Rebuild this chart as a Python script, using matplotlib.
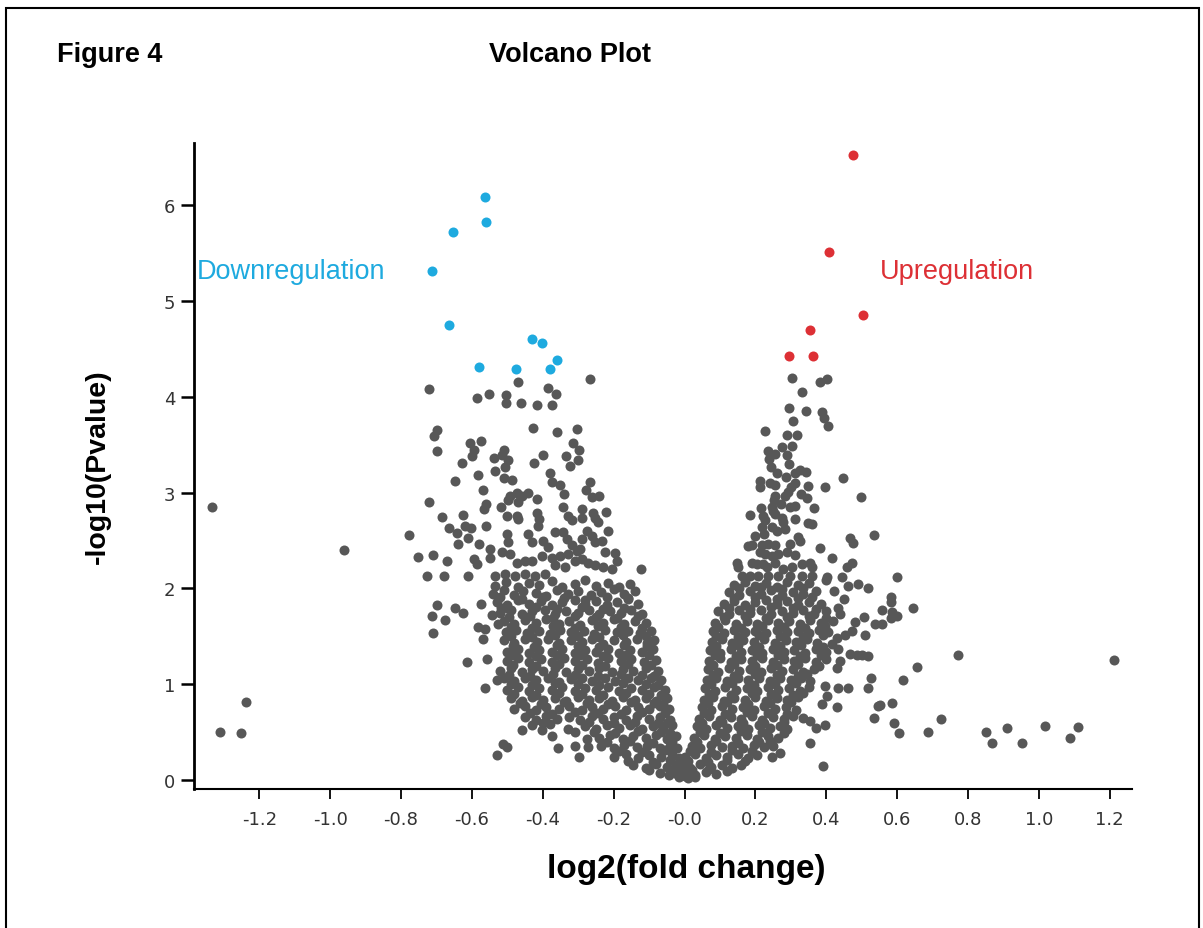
import matplotlib.pyplot as plt
import matplotlib.ticker as ticker
from matplotlib.patches import Rectangle
import numpy as np

# significant genes
down_x = [-0.563, -0.560, -0.654, -0.713, -0.664, -0.429, -0.401, -0.359, -0.579, -0.475, -0.380]
down_y = [6.09, 5.83, 5.72, 5.31, 4.75, 4.60, 4.56, 4.38, 4.31, 4.29, 4.29]
up_x = [0.474, 0.408, 0.503, 0.354, 0.296, 0.363]
up_y = [6.52, 5.51, 4.85, 4.70, 4.43, 4.43]

# non-significant genes, (log2 fc, -log10 p)
left_upper = [
    (-0.720, 4.08), (-0.471, 4.15), (-0.266, 4.19), (-0.586, 3.99), (-0.553, 4.03), (-0.504, 4.02),
    (-0.504, 3.94), (-0.462, 3.94), (-0.416, 3.91), (-0.373, 3.92), (-0.384, 4.09), (-0.362, 4.03),
    (-0.699, 3.65), (-0.707, 3.59), (-0.427, 3.67), (-0.359, 3.63), (-0.303, 3.66), (-0.699, 3.43),
    (-0.604, 3.52), (-0.574, 3.54), (-0.593, 3.44), (-0.599, 3.38), (-0.509, 3.44), (-0.497, 3.34),
    (-0.516, 3.39), (-0.537, 3.36), (-0.629, 3.31), (-0.399, 3.39), (-0.424, 3.31), (-0.314, 3.52),
    (-0.298, 3.44), (-0.335, 3.38), (-0.301, 3.34), (-0.323, 3.28), (-0.506, 3.27), (-0.535, 3.23),
    (-0.583, 3.18), (-0.647, 3.12), (-0.508, 3.15), (-0.487, 3.13), (-0.381, 3.20), (-0.375, 3.11),
    (-0.351, 3.08), (-0.340, 2.99), (-0.266, 3.11), (-0.279, 3.03), (-0.262, 2.95), (-0.241, 2.96),
    (-0.570, 3.03), (-0.492, 2.97), (-0.473, 3.00), (-0.459, 2.97), (-0.497, 2.92), (-0.469, 2.90),
    (-0.441, 3.00), (-0.417, 2.93), (-0.720, 2.90), (-0.561, 2.88), (-0.565, 2.83), (-0.518, 2.85),
    (-0.683, 2.75), (-0.625, 2.77), (-0.502, 2.76), (-0.473, 2.76), (-0.470, 2.72), (-0.417, 2.79),
    (-0.412, 2.72), (-0.414, 2.65), (-0.342, 2.85), (-0.328, 2.76), (-0.318, 2.71), (-0.290, 2.83),
    (-0.290, 2.74), (-0.257, 2.79), (-0.252, 2.74), (-0.243, 2.69), (-0.222, 2.80), (-0.666, 2.63),
    (-0.643, 2.58), (-0.619, 2.65), (-0.602, 2.63), (-0.612, 2.53), (-0.561, 2.65), (-0.638, 2.46),
    (-0.580, 2.46), (-0.548, 2.41), (-0.500, 2.57), (-0.497, 2.48), (-0.441, 2.57), (-0.431, 2.48),
    (-0.398, 2.50), (-0.384, 2.43), (-0.365, 2.59), (-0.342, 2.59), (-0.332, 2.52), (-0.318, 2.45),
    (-0.304, 2.39), (-0.276, 2.60), (-0.262, 2.55), (-0.252, 2.48), (-0.234, 2.50), (-0.215, 2.60),
    (-0.290, 2.52), (-0.295, 2.41), (-0.224, 2.38), (-0.196, 2.37), (-0.709, 2.35), (-0.669, 2.29),
    (-0.593, 2.31), (-0.586, 2.25), (-0.549, 2.32), (-0.516, 2.38), (-0.492, 2.36), (-0.473, 2.27),
    (-0.450, 2.29), (-0.431, 2.29), (-0.403, 2.34), (-0.375, 2.32), (-0.351, 2.34), (-0.328, 2.36),
    (-0.365, 2.24), (-0.337, 2.22), (-0.309, 2.29), (-0.290, 2.31), (-0.271, 2.27), (-0.252, 2.24),
    (-0.229, 2.22), (-0.205, 2.20), (-0.191, 2.29), (-0.124, 2.20), (-0.727, 2.13), (-0.680, 2.13),
    (-0.610, 2.13), (-0.535, 2.13), (-0.506, 2.15), (-0.478, 2.13), (-0.450, 2.15), (-0.421, 2.13),
    (-0.393, 2.15),
]
left_sparse = [
    (-0.699, 1.83), (-0.647, 1.80), (-0.624, 1.74), (-0.713, 1.71), (-0.676, 1.67), (-0.711, 1.53),
    (-0.575, 1.84), (-0.544, 1.72), (-0.517, 1.80), (-0.525, 1.63), (-0.582, 1.60), (-0.563, 1.58),
    (-0.570, 1.47), (-0.613, 1.23), (-0.558, 1.26), (-0.530, 1.04), (-0.563, 0.96), (-0.459, 0.52),
    (-0.401, 0.52), (-0.375, 0.46), (-0.328, 0.53), (-0.309, 0.50), (-0.356, 0.33), (-0.309, 0.36),
    (-0.299, 0.24), (-0.511, 0.38), (-0.502, 0.34), (-0.530, 0.26), (-0.276, 0.43), (-0.271, 0.34),
]
left_dense = [
    (-0.535, 2.03), (-0.505, 2.07), (-0.470, 2.02), (-0.440, 2.06), (-0.410, 2.04), (-0.375, 2.08),
    (-0.345, 2.02), (-0.310, 2.05), (-0.280, 2.09), (-0.250, 2.03), (-0.215, 2.06), (-0.185, 2.01),
    (-0.155, 2.05),
    (-0.540, 1.94), (-0.510, 1.98), (-0.480, 1.93), (-0.455, 1.97), (-0.420, 1.95), (-0.390, 1.92),
    (-0.360, 1.98), (-0.330, 1.94), (-0.300, 1.97), (-0.265, 1.93), (-0.235, 1.96), (-0.200, 1.99),
    (-0.170, 1.94), (-0.140, 1.97),
    (-0.530, 1.86), (-0.500, 1.83), (-0.470, 1.88), (-0.440, 1.84), (-0.405, 1.87), (-0.375, 1.83),
    (-0.345, 1.86), (-0.310, 1.88), (-0.280, 1.84), (-0.250, 1.87), (-0.220, 1.83), (-0.190, 1.86),
    (-0.160, 1.89), (-0.130, 1.84),
    (-0.520, 1.74), (-0.490, 1.77), (-0.460, 1.73), (-0.430, 1.76), (-0.395, 1.78), (-0.365, 1.73),
    (-0.335, 1.76), (-0.300, 1.74), (-0.270, 1.78), (-0.240, 1.73), (-0.210, 1.76), (-0.180, 1.74),
    (-0.150, 1.77), (-0.120, 1.73),
    (-0.510, 1.66), (-0.480, 1.63), (-0.450, 1.67), (-0.420, 1.64), (-0.390, 1.68), (-0.355, 1.63),
    (-0.325, 1.66), (-0.295, 1.62), (-0.260, 1.67), (-0.230, 1.64), (-0.200, 1.68), (-0.170, 1.63),
    (-0.140, 1.66), (-0.110, 1.64),
    (-0.505, 1.54), (-0.475, 1.57), (-0.445, 1.53), (-0.410, 1.56), (-0.380, 1.52), (-0.350, 1.57),
    (-0.320, 1.54), (-0.285, 1.56), (-0.255, 1.52), (-0.225, 1.57), (-0.190, 1.54), (-0.160, 1.56),
    (-0.125, 1.53), (-0.095, 1.56),
    (-0.510, 1.46), (-0.480, 1.43), (-0.450, 1.47), (-0.415, 1.44), (-0.385, 1.47), (-0.355, 1.43),
    (-0.320, 1.46), (-0.290, 1.44), (-0.260, 1.47), (-0.230, 1.42), (-0.200, 1.46), (-0.165, 1.44),
    (-0.135, 1.47), (-0.105, 1.43), (-0.085, 1.46),
    (-0.500, 1.34), (-0.470, 1.37), (-0.440, 1.33), (-0.410, 1.36), (-0.375, 1.34), (-0.345, 1.37),
    (-0.310, 1.33), (-0.280, 1.36), (-0.250, 1.34), (-0.215, 1.37), (-0.185, 1.33), (-0.155, 1.36),
    (-0.120, 1.34), (-0.090, 1.37),
    (-0.500, 1.24), (-0.470, 1.27), (-0.440, 1.23), (-0.405, 1.26), (-0.375, 1.23), (-0.340, 1.27),
    (-0.310, 1.24), (-0.275, 1.26), (-0.245, 1.22), (-0.215, 1.27), (-0.180, 1.24), (-0.150, 1.26),
    (-0.115, 1.23), (-0.080, 1.25),
    (-0.520, 1.14), (-0.490, 1.17), (-0.460, 1.13), (-0.430, 1.16), (-0.400, 1.14), (-0.365, 1.17),
    (-0.335, 1.13), (-0.300, 1.16), (-0.270, 1.14), (-0.240, 1.17), (-0.205, 1.13), (-0.175, 1.16),
    (-0.145, 1.14), (-0.110, 1.17), (-0.075, 1.14),
    (-0.510, 1.06), (-0.480, 1.03), (-0.450, 1.07), (-0.420, 1.04), (-0.385, 1.06), (-0.355, 1.02),
    (-0.320, 1.05), (-0.290, 1.07), (-0.260, 1.03), (-0.225, 1.06), (-0.195, 1.03), (-0.160, 1.06),
    (-0.130, 1.04), (-0.095, 1.07), (-0.065, 1.04),
    (-0.500, 0.94), (-0.470, 0.97), (-0.440, 0.93), (-0.410, 0.96), (-0.375, 0.94), (-0.345, 0.97),
    (-0.310, 0.93), (-0.280, 0.96), (-0.250, 0.94), (-0.215, 0.97), (-0.185, 0.93), (-0.150, 0.96),
    (-0.120, 0.94), (-0.085, 0.97), (-0.055, 0.94),
    (-0.490, 0.86), (-0.460, 0.83), (-0.430, 0.87), (-0.400, 0.84), (-0.365, 0.86), (-0.335, 0.83),
    (-0.300, 0.87), (-0.270, 0.84), (-0.240, 0.86), (-0.205, 0.83), (-0.175, 0.87), (-0.140, 0.84),
    (-0.110, 0.86), (-0.080, 0.83), (-0.050, 0.86),
    (-0.480, 0.74), (-0.450, 0.77), (-0.420, 0.73), (-0.390, 0.76), (-0.355, 0.74), (-0.325, 0.77),
    (-0.290, 0.73), (-0.260, 0.76), (-0.230, 0.74), (-0.195, 0.77), (-0.165, 0.73), (-0.130, 0.76),
    (-0.100, 0.74), (-0.070, 0.77), (-0.045, 0.74),
    (-0.450, 0.66), (-0.420, 0.63), (-0.390, 0.67), (-0.360, 0.64), (-0.325, 0.66), (-0.295, 0.63),
    (-0.260, 0.67), (-0.230, 0.64), (-0.200, 0.66), (-0.165, 0.63), (-0.135, 0.67), (-0.100, 0.64),
    (-0.070, 0.66), (-0.040, 0.63),
    (-0.430, 0.57), (-0.380, 0.58), (-0.280, 0.56), (-0.250, 0.53), (-0.220, 0.57), (-0.185, 0.54),
    (-0.155, 0.57), (-0.120, 0.53), (-0.090, 0.56), (-0.060, 0.54), (-0.035, 0.57),
    (-0.240, 0.44), (-0.210, 0.47), (-0.175, 0.43), (-0.145, 0.46), (-0.110, 0.44), (-0.080, 0.47),
    (-0.050, 0.43), (-0.025, 0.46),
    (-0.235, 0.36), (-0.200, 0.33), (-0.170, 0.37), (-0.135, 0.34), (-0.105, 0.36), (-0.070, 0.33),
    (-0.040, 0.36), (-0.020, 0.33),
    (-0.200, 0.24), (-0.165, 0.27), (-0.130, 0.23), (-0.100, 0.26), (-0.065, 0.24), (-0.035, 0.27),
    (-0.015, 0.23),
    (-0.145, 0.16), (-0.110, 0.13), (-0.080, 0.17), (-0.050, 0.14), (-0.025, 0.16), (-0.005, 0.12),
    (-0.070, 0.07), (-0.045, 0.05), (-0.020, 0.08), (0.000, 0.04),
]
left_core = [
    (-0.520, 1.91), (-0.460, 1.89), (-0.400, 1.91), (-0.340, 1.90), (-0.280, 1.88), (-0.220, 1.91),
    (-0.160, 1.90),
    (-0.500, 1.80), (-0.420, 1.81), (-0.360, 1.79), (-0.290, 1.81), (-0.230, 1.79), (-0.170, 1.80),
    (-0.495, 1.70), (-0.435, 1.71), (-0.370, 1.69), (-0.310, 1.71), (-0.250, 1.70), (-0.190, 1.69),
    (-0.130, 1.71),
    (-0.490, 1.60), (-0.430, 1.59), (-0.370, 1.61), (-0.310, 1.59), (-0.245, 1.61), (-0.180, 1.60),
    (-0.120, 1.59),
    (-0.490, 1.50), (-0.430, 1.49), (-0.365, 1.51), (-0.300, 1.50), (-0.240, 1.49), (-0.175, 1.51),
    (-0.110, 1.50),
    (-0.485, 1.40), (-0.425, 1.39), (-0.360, 1.41), (-0.300, 1.40), (-0.240, 1.39), (-0.170, 1.41),
    (-0.105, 1.40),
    (-0.485, 1.30), (-0.420, 1.29), (-0.360, 1.31), (-0.295, 1.30), (-0.230, 1.29), (-0.165, 1.31),
    (-0.100, 1.30),
    (-0.485, 1.20), (-0.420, 1.19), (-0.355, 1.21), (-0.290, 1.20), (-0.225, 1.19), (-0.160, 1.21),
    (-0.095, 1.20),
    (-0.495, 1.10), (-0.435, 1.09), (-0.370, 1.11), (-0.310, 1.10), (-0.245, 1.09), (-0.180, 1.11),
    (-0.120, 1.10), (-0.085, 1.09),
    (-0.490, 1.00), (-0.430, 0.99), (-0.365, 1.01), (-0.300, 1.00), (-0.240, 0.99), (-0.175, 1.01),
    (-0.110, 1.00), (-0.075, 0.99),
    (-0.480, 0.90), (-0.420, 0.89), (-0.355, 0.91), (-0.290, 0.90), (-0.230, 0.89), (-0.165, 0.91),
    (-0.100, 0.90), (-0.065, 0.89),
    (-0.465, 0.80), (-0.405, 0.79), (-0.340, 0.81), (-0.275, 0.80), (-0.215, 0.79), (-0.150, 0.81),
    (-0.085, 0.80), (-0.060, 0.79),
    (-0.435, 0.70), (-0.375, 0.69), (-0.310, 0.71), (-0.245, 0.70), (-0.180, 0.69), (-0.120, 0.71),
    (-0.055, 0.70),
    (-0.400, 0.60), (-0.270, 0.61), (-0.200, 0.59), (-0.140, 0.61), (-0.075, 0.60), (-0.050, 0.59),
    (-0.255, 0.50), (-0.195, 0.49), (-0.130, 0.51), (-0.065, 0.50), (-0.040, 0.49),
    (-0.220, 0.40), (-0.155, 0.41), (-0.090, 0.39), (-0.035, 0.40),
    (-0.185, 0.30), (-0.120, 0.29), (-0.055, 0.31),
    (-0.160, 0.20), (-0.090, 0.19), (-0.040, 0.21),
    (-0.100, 0.10), (-0.035, 0.09),
]
right_upper = [
    (0.304, 4.20), (0.381, 4.15), (0.401, 4.19), (0.332, 4.05), (0.294, 3.88), (0.343, 3.85),
    (0.387, 3.84), (0.394, 3.78), (0.404, 3.70), (0.305, 3.75), (0.226, 3.64), (0.289, 3.60),
    (0.318, 3.60), (0.274, 3.48), (0.304, 3.49), (0.235, 3.43), (0.255, 3.40), (0.289, 3.39),
    (0.238, 3.35), (0.245, 3.27), (0.295, 3.30), (0.262, 3.20), (0.287, 3.16), (0.312, 3.21),
    (0.326, 3.24), (0.342, 3.22), (0.446, 3.15), (0.212, 3.12), (0.214, 3.06), (0.241, 3.10),
    (0.255, 3.08), (0.300, 3.06), (0.312, 3.10), (0.349, 3.07), (0.396, 3.06), (0.291, 3.01),
    (0.284, 2.97), (0.329, 2.99), (0.345, 2.94), (0.498, 2.95), (0.255, 2.97), (0.252, 2.92),
    (0.246, 2.85), (0.250, 2.81), (0.272, 2.88), (0.298, 2.85), (0.312, 2.86), (0.366, 2.84),
    (0.185, 2.77), (0.216, 2.84), (0.222, 2.76), (0.227, 2.71), (0.255, 2.78), (0.274, 2.74),
    (0.279, 2.69), (0.312, 2.72), (0.349, 2.68), (0.361, 2.67), (0.219, 2.64), (0.246, 2.64),
    (0.260, 2.60), (0.284, 2.62), (0.199, 2.55), (0.225, 2.57), (0.321, 2.54), (0.326, 2.49),
    (0.467, 2.53), (0.474, 2.47), (0.535, 2.56), (0.180, 2.44), (0.190, 2.45), (0.218, 2.45),
    (0.236, 2.46), (0.255, 2.45), (0.298, 2.46), (0.382, 2.42), (0.213, 2.38), (0.227, 2.36),
    (0.246, 2.34), (0.265, 2.36), (0.288, 2.38), (0.312, 2.35), (0.415, 2.32), (0.147, 2.27),
    (0.152, 2.22), (0.190, 2.27), (0.204, 2.25), (0.222, 2.25), (0.232, 2.22), (0.255, 2.27),
    (0.279, 2.20), (0.302, 2.22), (0.331, 2.25), (0.354, 2.27), (0.359, 2.22), (0.472, 2.27),
    (0.458, 2.22), (0.443, 2.12), (0.401, 2.12), (0.161, 2.13), (0.185, 2.13), (0.208, 2.13),
    (0.236, 2.13), (0.265, 2.13), (0.298, 2.13), (0.331, 2.13), (0.359, 2.13),
]
right_sparse = [
    (0.399, 2.09), (0.460, 2.03), (0.490, 2.05), (0.517, 2.00), (0.421, 1.97), (0.451, 1.89),
    (0.537, 1.63), (0.505, 1.70), (0.481, 1.65), (0.509, 1.51), (0.439, 1.73), (0.434, 1.80),
    (0.472, 1.56), (0.453, 1.51), (0.429, 1.48), (0.415, 1.42), (0.467, 1.32), (0.486, 1.31),
    (0.500, 1.30), (0.519, 1.29), (0.434, 1.37), (0.439, 1.24), (0.429, 1.17), (0.526, 1.06),
    (0.517, 0.96), (0.434, 0.96), (0.460, 0.96), (0.397, 0.98), (0.401, 0.88), (0.387, 0.79),
    (0.431, 0.76), (0.545, 0.77), (0.536, 0.65), (0.397, 0.57), (0.370, 0.54), (0.354, 0.39),
    (0.390, 0.15), (0.246, 0.24), (0.270, 0.28), (0.335, 0.65), (0.354, 0.62),
]
right_dense = [
    (0.140, 2.04), (0.170, 2.07), (0.200, 2.03), (0.230, 2.06), (0.260, 2.02), (0.290, 2.07),
    (0.320, 2.04), (0.350, 2.06),
    (0.125, 1.96), (0.155, 1.93), (0.185, 1.97), (0.215, 1.94), (0.245, 1.98), (0.275, 1.93),
    (0.305, 1.96), (0.335, 1.94), (0.370, 1.97),
    (0.110, 1.84), (0.140, 1.87), (0.170, 1.83), (0.200, 1.86), (0.230, 1.88), (0.260, 1.84),
    (0.290, 1.87), (0.320, 1.83), (0.350, 1.86), (0.385, 1.84),
    (0.095, 1.76), (0.125, 1.73), (0.155, 1.77), (0.185, 1.74), (0.215, 1.77), (0.245, 1.73),
    (0.275, 1.76), (0.305, 1.74), (0.335, 1.77), (0.365, 1.73), (0.400, 1.76),
    (0.085, 1.64), (0.115, 1.67), (0.145, 1.63), (0.175, 1.66), (0.205, 1.63), (0.235, 1.67),
    (0.265, 1.64), (0.295, 1.66), (0.325, 1.63), (0.355, 1.67), (0.385, 1.64), (0.420, 1.66),
    (0.080, 1.56), (0.110, 1.53), (0.140, 1.57), (0.170, 1.54), (0.200, 1.56), (0.230, 1.53),
    (0.260, 1.57), (0.290, 1.54), (0.320, 1.56), (0.350, 1.53), (0.380, 1.57), (0.405, 1.54),
    (0.078, 1.44), (0.105, 1.47), (0.135, 1.43), (0.165, 1.46), (0.195, 1.44), (0.225, 1.47),
    (0.255, 1.43), (0.285, 1.46), (0.315, 1.44), (0.345, 1.47), (0.375, 1.43),
    (0.072, 1.36), (0.100, 1.33), (0.130, 1.37), (0.160, 1.34), (0.190, 1.36), (0.220, 1.33),
    (0.250, 1.37), (0.280, 1.34), (0.310, 1.36), (0.340, 1.33), (0.370, 1.37), (0.400, 1.34),
    (0.070, 1.24), (0.100, 1.27), (0.130, 1.23), (0.160, 1.26), (0.190, 1.24), (0.220, 1.27),
    (0.250, 1.23), (0.280, 1.26), (0.310, 1.24), (0.340, 1.27), (0.370, 1.23), (0.400, 1.26),
    (0.066, 1.16), (0.095, 1.13), (0.125, 1.17), (0.155, 1.14), (0.185, 1.16), (0.215, 1.13),
    (0.245, 1.17), (0.275, 1.14), (0.305, 1.16), (0.335, 1.13), (0.365, 1.16),
    (0.063, 1.04), (0.090, 1.07), (0.120, 1.03), (0.150, 1.06), (0.180, 1.04), (0.210, 1.07),
    (0.240, 1.03), (0.270, 1.06), (0.300, 1.04), (0.330, 1.07), (0.355, 1.03),
    (0.058, 0.96), (0.085, 0.93), (0.115, 0.97), (0.145, 0.94), (0.175, 0.96), (0.205, 0.93),
    (0.235, 0.97), (0.265, 0.94), (0.295, 0.96), (0.325, 0.93), (0.350, 0.97),
    (0.054, 0.84), (0.080, 0.87), (0.110, 0.83), (0.140, 0.86), (0.170, 0.84), (0.200, 0.87),
    (0.230, 0.83), (0.260, 0.86), (0.290, 0.84), (0.320, 0.87),
    (0.048, 0.76), (0.075, 0.73), (0.105, 0.77), (0.135, 0.74), (0.165, 0.76), (0.195, 0.73),
    (0.225, 0.77), (0.255, 0.74), (0.285, 0.76), (0.315, 0.73),
    (0.040, 0.64), (0.070, 0.67), (0.100, 0.63), (0.130, 0.66), (0.160, 0.64), (0.190, 0.67),
    (0.220, 0.63), (0.250, 0.66), (0.280, 0.64), (0.305, 0.67),
    (0.034, 0.56), (0.060, 0.53), (0.090, 0.57), (0.120, 0.54), (0.150, 0.56), (0.180, 0.53),
    (0.210, 0.57), (0.240, 0.54), (0.270, 0.56), (0.290, 0.53),
    (0.028, 0.44), (0.055, 0.47), (0.085, 0.43), (0.115, 0.46), (0.145, 0.44), (0.175, 0.47),
    (0.205, 0.43), (0.235, 0.46), (0.265, 0.44),
    (0.020, 0.36), (0.045, 0.33), (0.075, 0.37), (0.105, 0.34), (0.135, 0.36), (0.165, 0.33),
    (0.195, 0.37), (0.225, 0.34), (0.250, 0.36),
    (0.002, 0.24), (0.030, 0.27), (0.060, 0.23), (0.090, 0.26), (0.120, 0.24), (0.150, 0.27),
    (0.180, 0.23), (0.205, 0.26),
    (-0.010, 0.16), (0.015, 0.13), (0.045, 0.17), (0.075, 0.14), (0.105, 0.16), (0.135, 0.13),
    (0.160, 0.16),
    (-0.020, 0.06), (0.005, 0.09), (0.030, 0.05), (0.060, 0.08), (0.090, 0.06),
    (-0.015, 0.03), (0.010, 0.02), (0.030, 0.035),
]
right_core = [
    (0.155, 2.00), (0.215, 2.01), (0.275, 1.99), (0.335, 2.00),
    (0.140, 1.90), (0.200, 1.91), (0.260, 1.89), (0.320, 1.90), (0.360, 1.91),
    (0.125, 1.80), (0.185, 1.79), (0.245, 1.81), (0.305, 1.80), (0.370, 1.79),
    (0.110, 1.70), (0.170, 1.71), (0.230, 1.69), (0.290, 1.70), (0.350, 1.71), (0.400, 1.69),
    (0.095, 1.60), (0.160, 1.59), (0.220, 1.61), (0.280, 1.60), (0.340, 1.59), (0.395, 1.61),
    (0.090, 1.50), (0.150, 1.49), (0.210, 1.51), (0.270, 1.50), (0.335, 1.49), (0.390, 1.51),
    (0.090, 1.40), (0.150, 1.41), (0.210, 1.39), (0.270, 1.40), (0.330, 1.41), (0.390, 1.39),
    (0.085, 1.30), (0.145, 1.29), (0.205, 1.31), (0.265, 1.30), (0.325, 1.29), (0.385, 1.31),
    (0.080, 1.20), (0.140, 1.21), (0.200, 1.19), (0.260, 1.20), (0.320, 1.21), (0.380, 1.19),
    (0.080, 1.10), (0.140, 1.09), (0.200, 1.11), (0.260, 1.10), (0.320, 1.09), (0.345, 1.11),
    (0.075, 1.00), (0.135, 1.01), (0.195, 0.99), (0.255, 1.00), (0.315, 1.01),
    (0.070, 0.90), (0.130, 0.89), (0.190, 0.91), (0.245, 0.90), (0.305, 0.89), (0.335, 0.91),
    (0.065, 0.80), (0.120, 0.81), (0.180, 0.79), (0.240, 0.80), (0.300, 0.81),
    (0.055, 0.70), (0.115, 0.69), (0.175, 0.71), (0.235, 0.70), (0.290, 0.69),
    (0.050, 0.60), (0.105, 0.61), (0.165, 0.59), (0.225, 0.60), (0.280, 0.61),
    (0.045, 0.50), (0.100, 0.49), (0.160, 0.51), (0.220, 0.50), (0.280, 0.49),
    (0.035, 0.40), (0.090, 0.41), (0.150, 0.39), (0.210, 0.40), (0.240, 0.41),
    (0.015, 0.30), (0.075, 0.29), (0.135, 0.31), (0.190, 0.30),
    (0.010, 0.20), (0.065, 0.19), (0.120, 0.21), (0.170, 0.20),
    (0.020, 0.10), (0.070, 0.11), (0.120, 0.09),
]
outliers = [
    (0.600, 2.12), (0.583, 1.91), (0.583, 1.86), (0.556, 1.78), (0.644, 1.80), (0.586, 1.75),
    (0.599, 1.71), (0.583, 1.69), (0.556, 1.63), (0.771, 1.30), (0.655, 1.18), (0.616, 1.04),
    (0.551, 0.78), (0.586, 0.80), (0.592, 0.60), (0.606, 0.49), (0.688, 0.50), (0.724, 0.64),
    (0.851, 0.50), (0.867, 0.39), (0.910, 0.54), (0.951, 0.39), (1.018, 0.56), (1.087, 0.44),
    (1.109, 0.55), (1.212, 1.25),
    (-1.332, 2.85), (-0.961, 2.40), (-0.777, 2.56), (-0.753, 2.33), (-1.236, 0.81), (-1.310, 0.50),
    (-1.252, 0.49),
]

xtick_pos = [-1.2, -1.0, -0.8, -0.6, -0.4, -0.2, 0.0, 0.2, 0.4, 0.6, 0.8, 1.0, 1.2]
xtick_labels = ["-1.2", "-1.0", "-0.8", "-0.6", "-0.4", "-0.2", "-0.0",
                "0.2", "0.4", "0.6", "0.8", "1.0", "1.2"]
ytick_pos = [0, 1, 2, 3, 4, 5, 6]

GREY = "#575757"
BLUE = "#1eaadf"
RED = "#dd3035"
DOT = 52

grey = np.array(left_upper + left_sparse + left_dense + left_core + right_upper
                + right_sparse + right_dense + right_core + outliers)

fig = plt.figure(figsize=(12.03, 9.29), dpi=100)
ax = fig.add_axes([0.1613, 0.1496, 0.7795, 0.6954])

ax.scatter(grey[:, 0], grey[:, 1], s=DOT, color=GREY, linewidths=0, zorder=2)
ax.scatter(down_x, down_y, s=DOT, color=BLUE, linewidths=0, zorder=3)
ax.scatter(up_x, up_y, s=DOT, color=RED, linewidths=0, zorder=3)

ax.set_xlim(-1.384, 1.262)
ax.set_ylim(-0.094, 6.65)

ax.spines["top"].set_visible(False)
ax.spines["right"].set_visible(False)
ax.spines["left"].set_linewidth(2.0)
ax.spines["bottom"].set_linewidth(1.5)

ax.xaxis.set_major_locator(ticker.FixedLocator(xtick_pos))
ax.xaxis.set_major_formatter(ticker.FixedFormatter(xtick_labels))
ax.yaxis.set_major_locator(ticker.FixedLocator(ytick_pos))
ax.tick_params(axis="x", length=7, width=1.3, pad=8, labelsize=13, labelcolor="#333333")
ax.tick_params(axis="y", length=9.5, width=1.8, pad=4, labelsize=13, labelcolor="#333333")
for lab in ax.get_xticklabels() + ax.get_yticklabels():
    lab.set_family("DejaVu Sans")

ax.set_xlabel("log2(fold change)", fontsize=24, fontweight="bold",
              family="Liberation Sans", labelpad=18, x=0.5247)
ax.set_ylabel("-log10(Pvalue)", fontsize=20.5, fontweight="bold",
              family="Liberation Sans", labelpad=38)

ax.text(-1.375, 5.31, "Downregulation", color=BLUE, fontsize=19.5,
        family="Liberation Sans", ha="left", va="center")
ax.text(0.5515, 5.31, "Upregulation", color=RED, fontsize=19.5,
        family="Liberation Sans", ha="left", va="center")

fig.text(57 / 1203, 1 - 55 / 929, "Figure 4", fontsize=19.5, fontweight="bold",
         family="Liberation Sans", ha="left", va="center")
fig.text(570 / 1203, 1 - 55 / 929, "Volcano Plot", fontsize=19.5, fontweight="bold",
         family="Liberation Sans", ha="center", va="center")

# outer frame
fig.add_artist(Rectangle((6 / 1203, -0.01), 1193 / 1203, 1 - 9 / 929 + 0.01,
                         transform=fig.transFigure, fill=False,
                         edgecolor="black", linewidth=1.5))

fig.savefig("out.png", dpi=100)
